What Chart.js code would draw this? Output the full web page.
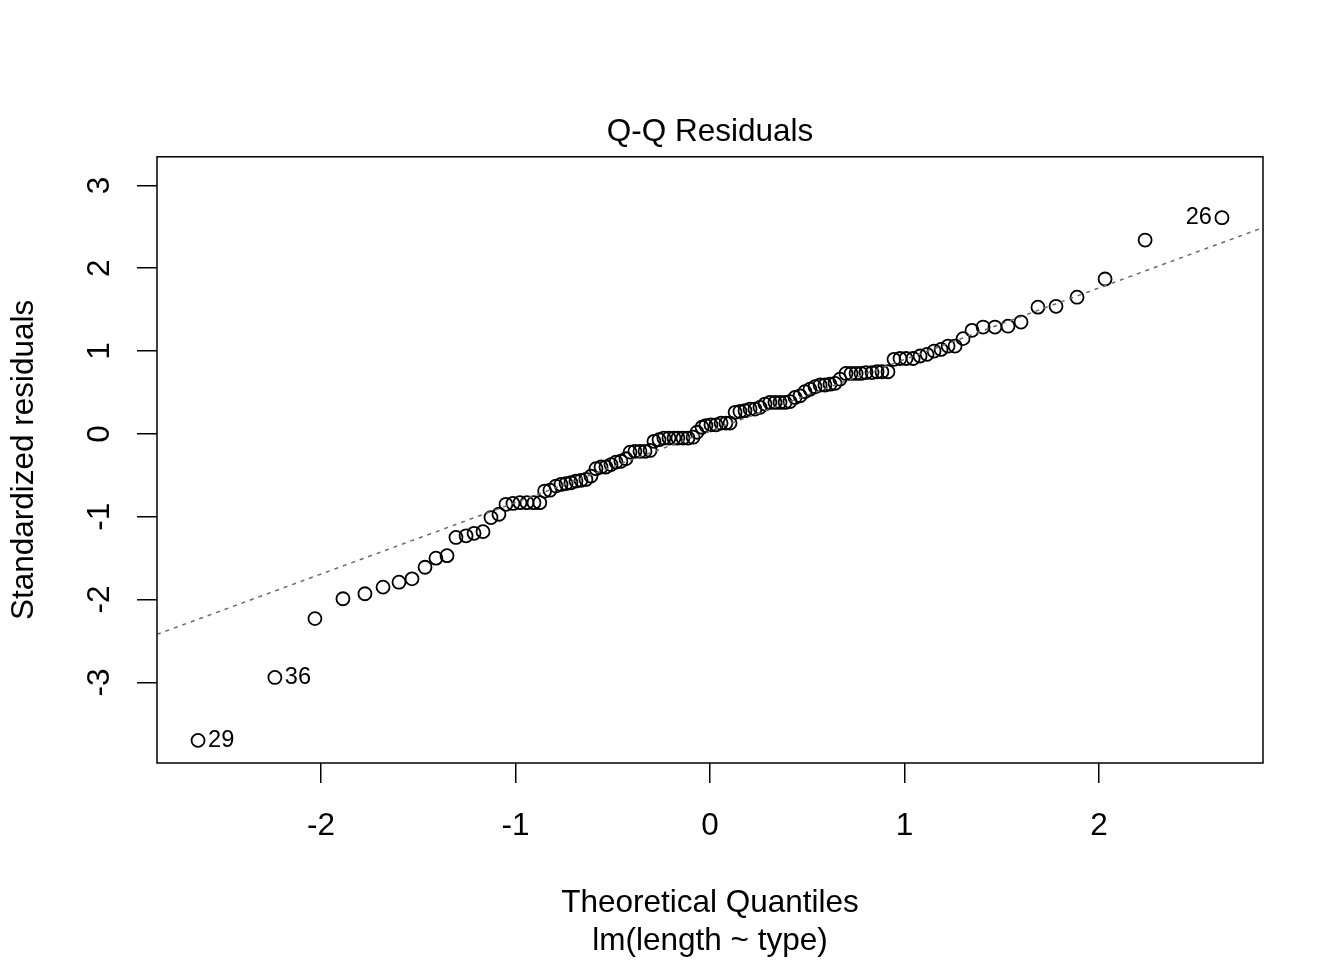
<!DOCTYPE html>
<html lang="en">
<head>
<meta charset="UTF-8">
<title>Q-Q Residuals</title>
<script src="https://cdn.jsdelivr.net/npm/chart.js@4.4.1/dist/chart.umd.min.js"></script>
<style>
  body { margin: 0; background: #fff; }
  #wrap { width: 1344px; height: 960px; }
</style>
</head>
<body>
<div id="wrap"><canvas id="qq"></canvas></div>
<script>
// theoretical quantiles (x) and standardized residuals (y)
const quantX = [-2.632,-2.237,-2.031,-1.887,-1.774,-1.681,-1.599,-1.532,-1.465,-1.409,
  -1.352,-1.306,-1.254,-1.213,-1.167,-1.126,-1.085,-1.049,-1.013,-0.977,
  -0.941,-0.905,-0.875,-0.850,-0.823,-0.792,-0.766,-0.740,-0.715,-0.689,
  -0.663,-0.638,-0.612,-0.586,-0.560,-0.535,-0.509,-0.483,-0.458,-0.432,
  -0.411,-0.386,-0.360,-0.334,-0.308,-0.288,-0.262,-0.237,-0.211,-0.185,
  -0.165,-0.139,-0.113,-0.087,-0.067,-0.041,-0.021,
  0.005,0.031,0.057,0.082,0.103,0.129,0.154,0.180,0.206,0.231,
  0.257,0.283,0.308,0.334,0.360,0.386,0.411,0.437,0.463,0.488,
  0.514,0.540,0.566,0.591,0.617,0.643,0.668,0.699,0.725,0.751,
  0.776,0.802,0.833,0.859,0.884,0.915,0.946,0.977,1.008,1.044,
  1.080,1.116,1.152,1.188,1.224,1.260,1.301,1.347,1.404,1.465,
  1.532,1.599,1.686,1.779,1.887,2.031,2.237,2.632];
const residY = [-3.70,-2.94,-2.23,-1.99,-1.93,-1.85,-1.79,-1.75,-1.61,-1.50,
  -1.47,-1.25,-1.23,-1.20,-1.18,-1.01,-0.97,-0.85,-0.84,-0.83,
  -0.83,-0.83,-0.83,-0.69,-0.68,-0.63,-0.61,-0.60,-0.59,-0.57,
  -0.56,-0.55,-0.51,-0.42,-0.40,-0.40,-0.37,-0.34,-0.33,-0.30,
  -0.22,-0.21,-0.21,-0.21,-0.20,-0.09,-0.07,-0.05,-0.05,-0.05,
  -0.05,-0.05,-0.05,-0.04,0.02,0.08,0.10,
  0.11,0.11,0.13,0.13,0.13,0.26,0.27,0.28,0.30,0.30,
  0.32,0.36,0.38,0.38,0.38,0.38,0.39,0.44,0.46,0.51,
  0.54,0.57,0.59,0.59,0.60,0.61,0.66,0.73,0.73,0.73,
  0.73,0.74,0.74,0.75,0.75,0.75,0.90,0.91,0.91,0.91,
  0.94,0.96,1.00,1.02,1.06,1.06,1.15,1.25,1.29,1.29,
  1.30,1.35,1.53,1.54,1.65,1.87,2.34,2.61];

// labelled outliers: index into the arrays above, text, side
const outlierIdx = [0, 1, 114];
const outlierText = ['29', '36', '26'];
const outlierSide = ['right', 'right', 'left'];

// qqline end points (at plot edges)
const refLineX = [-2.843, 2.843];
const refLineY = [-2.42, 2.49];

const xTicks = [-2, -1, 0, 1, 2];
const yTicks = [-3, -2, -1, 0, 1, 2, 3];

const FONT = '"Liberation Sans", Arial, Helvetica, sans-serif';

const points = quantX.map((x, i) => ({ x: x, y: residY[i] }));
const refLine = refLineX.map((x, i) => ({ x: x, y: refLineY[i] }));

// box, rotated y tick labels and point labels
const extras = {
  id: 'extras',
  afterDraw(chart) {
    const ctx = chart.ctx;
    const a = chart.chartArea;
    const xs = chart.scales.x, ys = chart.scales.y;
    ctx.save();
    ctx.strokeStyle = '#000';
    ctx.lineWidth = 1.5;
    ctx.strokeRect(a.left, a.top, a.right - a.left, a.bottom - a.top);

    ctx.fillStyle = '#000';
    ctx.font = '31.5px ' + FONT;
    ctx.textAlign = 'center';
    ctx.textBaseline = 'middle';
    yTicks.forEach(v => {
      const py = ys.getPixelForValue(v);
      ctx.save();
      ctx.translate(100, py);
      ctx.rotate(-Math.PI / 2);
      ctx.fillText(String(v), 0, 0);
      ctx.restore();
    });

    ctx.font = '23.6px ' + FONT;
    outlierIdx.forEach((idx, k) => {
      const px = xs.getPixelForValue(quantX[idx]);
      const py = ys.getPixelForValue(residY[idx]);
      if (outlierSide[k] === 'right') {
        ctx.textAlign = 'left';
        ctx.fillText(outlierText[k], px + 10, py);
      } else {
        ctx.textAlign = 'right';
        ctx.fillText(outlierText[k], px - 10, py);
      }
    });
    ctx.restore();
  }
};

new Chart(document.getElementById('qq'), {
  type: 'scatter',
  data: {
    datasets: [
      {
        data: refLine,
        showLine: true,
        borderColor: '#6a6a6a',
        borderWidth: 1.5,
        borderDash: [4, 5],
        pointRadius: 0,
        fill: false
      },
      {
        data: points,
        pointRadius: 6.5,
        pointBorderWidth: 1.8,
        pointBorderColor: '#000',
        pointBackgroundColor: 'rgba(0,0,0,0)',
        pointHoverRadius: 6.5
      }
    ]
  },
  options: {
    responsive: true,
    maintainAspectRatio: false,
    animation: false,
    layout: { padding: { top: 0, right: 81, bottom: 0, left: 0 } },
    plugins: {
      legend: { display: false },
      tooltip: { enabled: false },
      title: {
        display: true,
        fullSize: false,
        text: 'Q-Q Residuals',
        color: '#000',
        font: { family: FONT, size: 31.5, weight: 'normal', lineHeight: 1.2 },
        padding: { top: 113, bottom: 6 }
      }
    },
    scales: {
      x: {
        type: 'linear',
        min: refLineX[0],
        max: refLineX[1],
        afterBuildTicks: s => { s.ticks = xTicks.map(v => ({ value: v })); },
        afterFit: s => { s.height = 197; },
        grid: { drawOnChartArea: false, drawTicks: true, tickLength: 20, color: '#000', lineWidth: 1.5 },
        border: { display: false },
        ticks: { color: '#000', font: { family: FONT, size: 31.5 }, padding: 24 },
        title: {
          display: true,
          text: ['Theoretical Quantiles', 'lm(length ~ type)'],
          color: '#000',
          font: { family: FONT, size: 31.5, lineHeight: 1.2 },
          padding: { top: 17, bottom: 0 }
        }
      },
      y: {
        type: 'linear',
        min: -3.973,
        max: 3.345,
        afterBuildTicks: s => { s.ticks = yTicks.map(v => ({ value: v })); },
        afterFit: s => { s.width = 157; },
        grid: { drawOnChartArea: false, drawTicks: true, tickLength: 20, color: '#000', lineWidth: 1.5 },
        border: { display: false },
        ticks: { display: false },
        title: {
          display: true,
          text: 'Standardized residuals',
          color: '#000',
          font: { family: FONT, size: 31.5, lineHeight: 1.2 },
          padding: { top: 5, bottom: 0 }
        }
      }
    }
  },
  plugins: [extras]
});
</script>
</body>
</html>
